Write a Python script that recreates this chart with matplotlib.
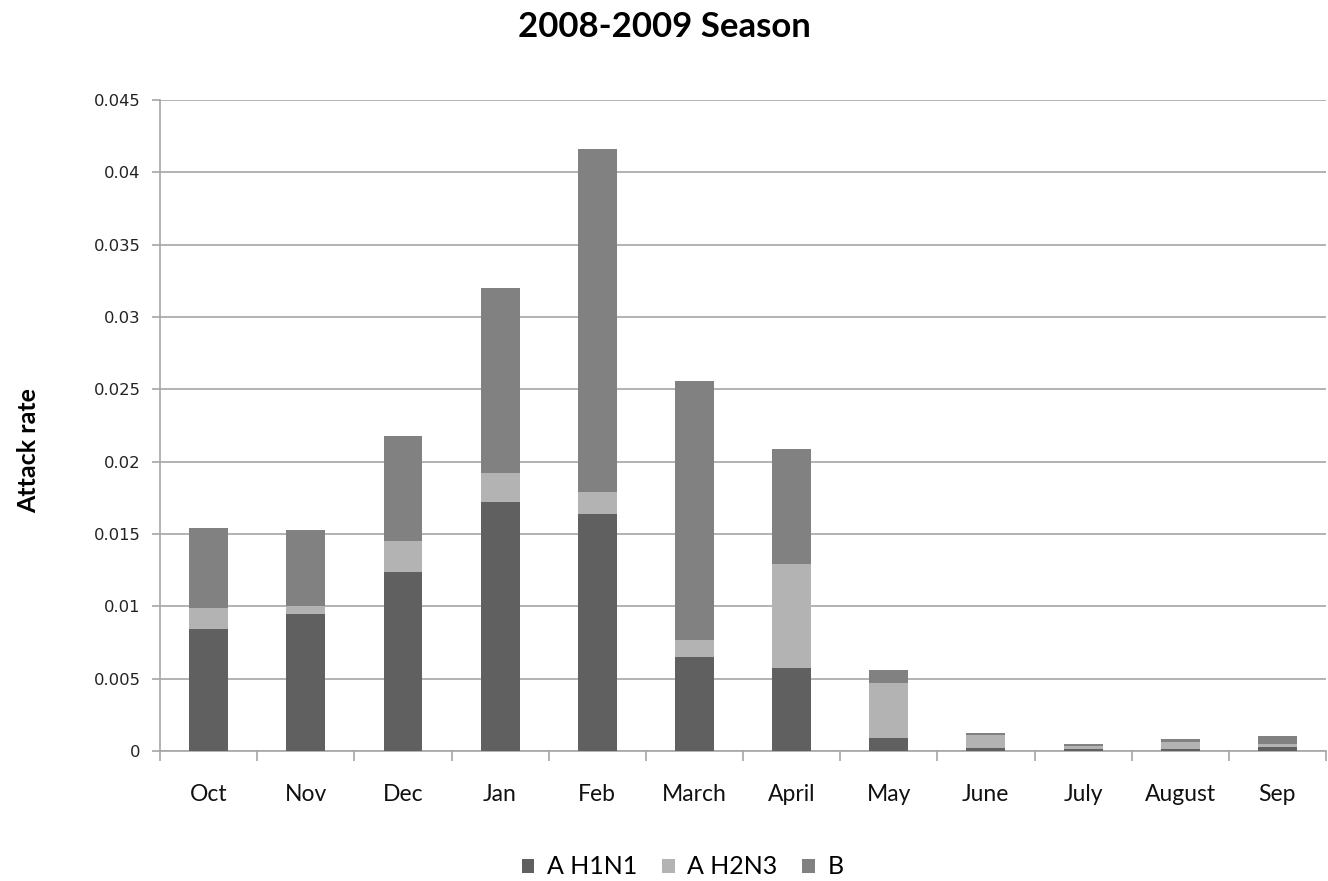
import numpy as np
import matplotlib.pyplot as plt

# monthly attack rates by subtype, 2008-2009 season
months = ["Oct", "Nov", "Dec", "Jan", "Feb", "March", "April",
          "May", "June", "July", "August", "Sep"]
h1n1 = [0.0084, 0.0095, 0.0124, 0.0172, 0.0164, 0.0065, 0.0057,
        0.0009, 0.0002, 0.00016, 0.00014, 0.00026]
h2n3 = [0.0015, 0.0005, 0.0021, 0.0020, 0.0015, 0.0012, 0.0072,
        0.0038, 0.0009, 0.00015, 0.0005, 0.0002]
b = [0.0055, 0.0053, 0.0073, 0.0128, 0.0237, 0.0179, 0.0080,
     0.0009, 0.00014, 0.00015, 0.00017, 0.00056]

c_h1n1 = "#606060"
c_h2n3 = "#b3b3b3"
c_b = "#818181"
grid_c = "#a6a6a6"

fig = plt.figure(figsize=(13.28, 8.81), dpi=100)
ax = fig.add_axes([0.1205, 0.1476, 0.878, 0.739])

x = np.arange(len(months))
w = 0.4
h1 = np.array(h1n1)
h2 = np.array(h2n3)
bb = np.array(b)
ax.bar(x, h1, w, color=c_h1n1, label="A H1N1", zorder=3)
ax.bar(x, h2, w, bottom=h1, color=c_h2n3, label="A H2N3", zorder=3)
ax.bar(x, bb, w, bottom=h1 + h2, color=c_b, label="B", zorder=3)

ax.set_xlim(-0.5, len(months) - 0.5)
ax.set_ylim(0, 0.045)
yt = np.arange(0, 0.0451, 0.005)
ax.set_yticks(yt)
ax.set_yticklabels(["0" if v == 0 else f"{v:g}" for v in yt],
                   fontsize=11.8, family="DejaVu Sans", color="#222222")
ax.yaxis.grid(True, color=grid_c, linewidth=1.2, zorder=0)

ax.set_xticks(x)
ax.set_xticklabels(months, fontsize=16.5, family="Lato", color="#111111")
ax.set_xticks(np.arange(-0.5, len(months)), minor=True)
ax.tick_params(axis="x", which="major", length=0, pad=24)
ax.tick_params(axis="x", which="minor", length=7, width=1.2, color=grid_c)
ax.tick_params(axis="y", length=6, width=1.2, color=grid_c, pad=8)

for s in ["top", "right"]:
    ax.spines[s].set_visible(False)
for s in ["left", "bottom"]:
    ax.spines[s].set_color(grid_c)
    ax.spines[s].set_linewidth(1.2)

ax.set_ylabel("Attack rate", fontsize=18, fontweight="bold", family="Lato")
ax.yaxis.set_label_coords(-0.103, 0.462)
fig.suptitle("2008-2009 Season", fontsize=25, fontweight="bold",
             family="Lato", y=0.987)

fig.legend(loc="center", ncol=3, frameon=False,
           prop={"family": "Lato", "size": 18},
           bbox_to_anchor=(0.514, 1 - 867 / 881), handlelength=0.5,
           handleheight=0.5, columnspacing=1.0, handletextpad=0.5)

fig.savefig("out.png", dpi=100)
